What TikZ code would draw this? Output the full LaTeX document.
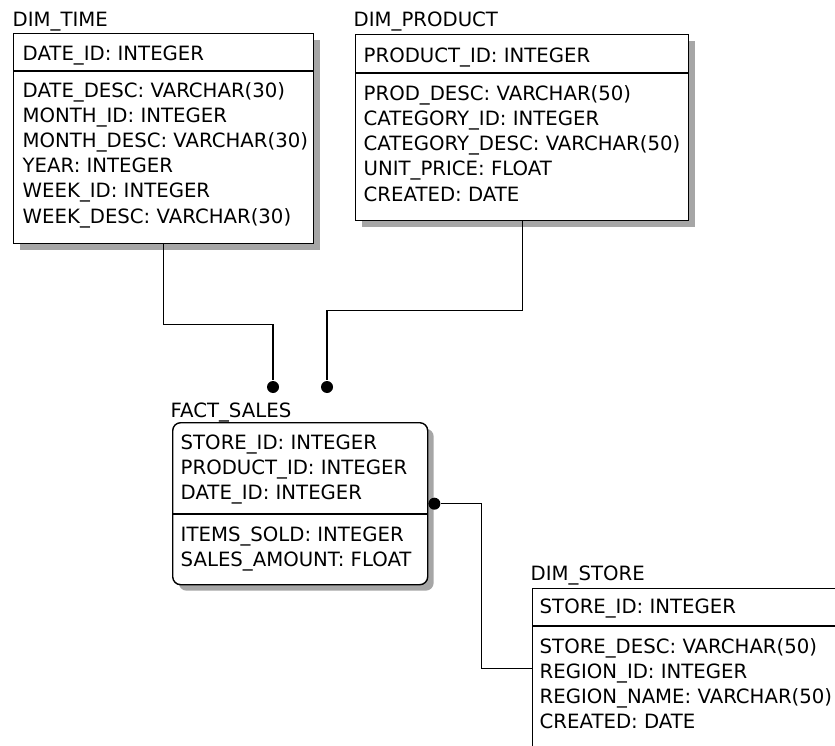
\documentclass[tikz,border=0pt]{standalone}
\usepackage{fontspec}
\setmainfont{DejaVu Sans}
\usetikzlibrary{shadows}

\begin{document}
\begin{tikzpicture}[x = 1pt, y = -1pt, line width = 1.4pt,
    entity/.style = {draw, fill = white, anchor = north west, inner sep = 0pt, drop shadow = {shadow xshift = 6pt, shadow yshift = -6pt, fill = black!35, opacity = 1}},
    field/.style = {anchor = base west, inner sep = 0pt, font = \fontsize{19.7}{24}\selectfont},
    fk/.style = {fill, circle, inner sep = 0pt, minimum size = 12pt}]
      \useasboundingbox (0, 0) rectangle (835, 746);
      \clip (0, 0) rectangle (835, 746);

      \node[entity, minimum width = 300pt, minimum height = 210pt] (time) at (13, 33) {};
      \draw ([yshift = -38pt]time.north west) -- ([yshift = -38pt]time.north east);
      \node[field] (time-title) at (12, 27) {DIM\_TIME};
      \node[field] (time-key) at (22, 61) {DATE\_ID: INTEGER};
      \foreach \f [count = \i] in {DATE\_DESC: VARCHAR(30), MONTH\_ID: INTEGER, MONTH\_DESC: VARCHAR(30), YEAR: INTEGER, WEEK\_ID: INTEGER, WEEK\_DESC: VARCHAR(30)}
        \node[field] (time-\i) at (22, 73 + 25*\i) {\f};

      \node[entity, minimum width = 333pt, minimum height = 186pt] (product) at (355, 34) {};
      \draw ([yshift = -39pt]product.north west) -- ([yshift = -39pt]product.north east);
      \node[field] (product-title) at (353, 27) {DIM\_PRODUCT};
      \node[field] (product-key) at (363, 63) {PRODUCT\_ID: INTEGER};
      \foreach \f [count = \i] in {PROD\_DESC: VARCHAR(50), CATEGORY\_ID: INTEGER, CATEGORY\_DESC: VARCHAR(50), UNIT\_PRICE: FLOAT, CREATED: DATE}
        \node[field] (product-\i) at (363, 76 + 25*\i) {\f};

      \node[entity, rounded corners = 8pt, minimum width = 255pt, minimum height = 162pt] (sales) at (172, 422) {};
      \draw ([yshift = -92pt]sales.north west) -- ([yshift = -92pt]sales.north east);
      \node[field] (sales-title) at (170, 417) {FACT\_SALES};
      \foreach \f [count = \i] in {STORE\_ID: INTEGER, PRODUCT\_ID: INTEGER, DATE\_ID: INTEGER}
        \node[field] (sales-k\i) at (180, 424 + 25*\i) {\f};
      \foreach \f [count = \i] in {ITEMS\_SOLD: INTEGER, SALES\_AMOUNT: FLOAT}
        \node[field] (sales-m\i) at (180, 516 + 25*\i) {\f};

      \node[entity, minimum width = 310pt, minimum height = 160pt] (store) at (532, 588) {};
      \draw ([yshift = -38pt]store.north west) -- ([yshift = -38pt]store.north east);
      \node[field] (store-title) at (530, 580) {DIM\_STORE};
      \node[field] (store-key) at (539, 613) {STORE\_ID: INTEGER};
      \foreach \f [count = \i] in {STORE\_DESC: VARCHAR(50), REGION\_ID: INTEGER, REGION\_NAME: VARCHAR(50), CREATED: DATE}
        \node[field] (store-\i) at (539, 628 + 25*\i) {\f};

      \node[fk] (time-fk) at (273, 387) {};
      \node[fk] (product-fk) at (327, 387) {};
      \node[fk] (store-fk) at ([xshift = 6pt]sales.east) {};

      \draw (time.south) -- ++(0, 80) -| (time-fk);
      \draw (product.south) -- ++(0, 89) -| (product-fk);
      \draw (store-fk) -- ++(47, 0) |- (store.west);

    \end{tikzpicture}
\end{document}
